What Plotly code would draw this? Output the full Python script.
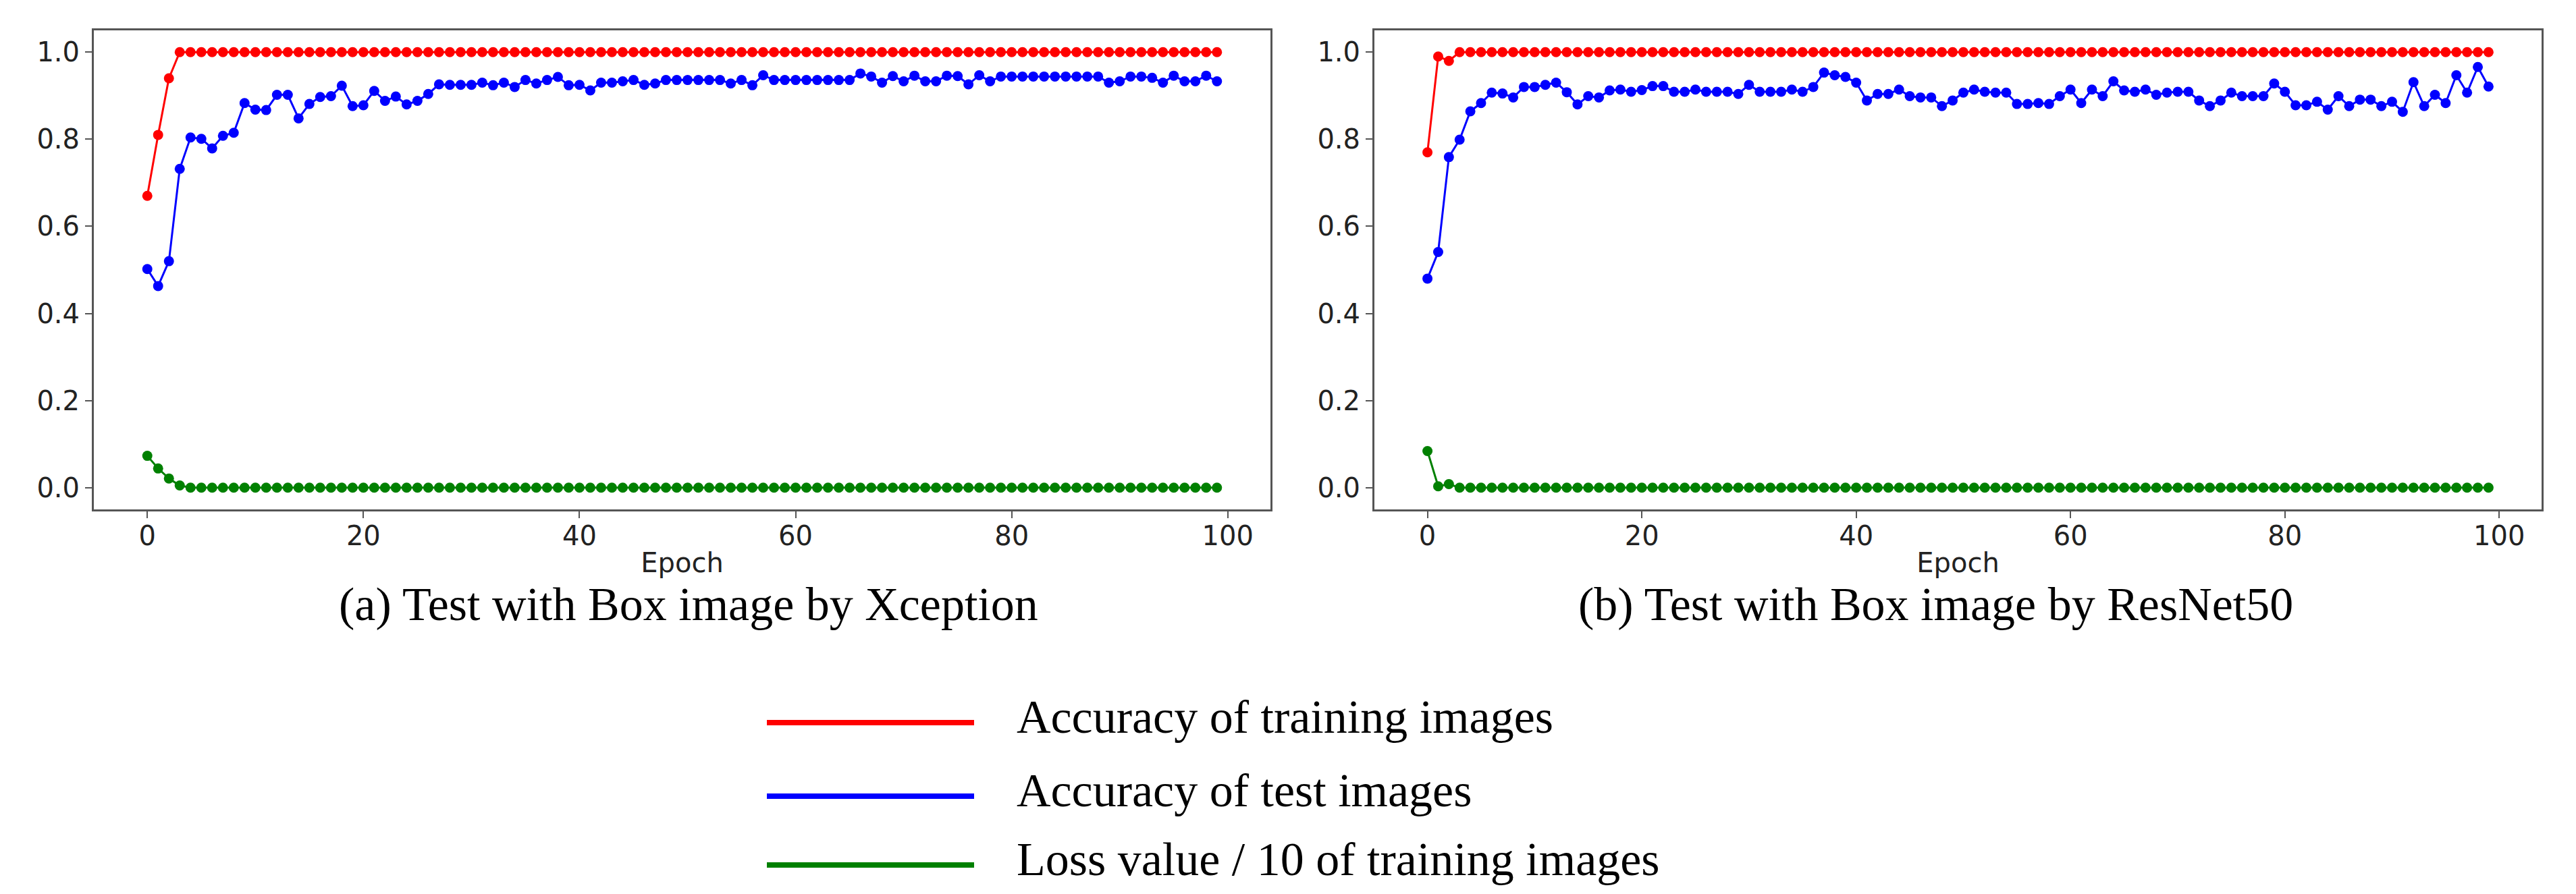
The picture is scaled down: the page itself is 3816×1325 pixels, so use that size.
"""
Training curves for the Box image test: Xception (a) and ResNet50 (b).
"""

import plotly.graph_objects as go
from plotly.subplots import make_subplots

epochs = list(range(100))

series_names = [
    "Accuracy of training images",
    "Accuracy of test images",
    "Loss value / 10 of training images",
]
series_colors = ["#ff0000", "#0000ff", "#008000"]

captions = [
    "(a) Test with Box image by Xception",
    "(b) Test with Box image by ResNet50",
]

xtick_vals = [0, 20, 40, 60, 80, 100]
ytick_vals = [0.0, 0.2, 0.4, 0.6, 0.8, 1.0]
ytick_text = ["0.0", "0.2", "0.4", "0.6", "0.8", "1.0"]

# (a) Xception
xception_train_acc = [
    0.67, 0.81, 0.94, 1.0, 1.0, 1.0, 1.0, 1.0, 1.0, 1.0,
    1.0, 1.0, 1.0, 1.0, 1.0, 1.0, 1.0, 1.0, 1.0, 1.0,
    1.0, 1.0, 1.0, 1.0, 1.0, 1.0, 1.0, 1.0, 1.0, 1.0,
    1.0, 1.0, 1.0, 1.0, 1.0, 1.0, 1.0, 1.0, 1.0, 1.0,
    1.0, 1.0, 1.0, 1.0, 1.0, 1.0, 1.0, 1.0, 1.0, 1.0,
    1.0, 1.0, 1.0, 1.0, 1.0, 1.0, 1.0, 1.0, 1.0, 1.0,
    1.0, 1.0, 1.0, 1.0, 1.0, 1.0, 1.0, 1.0, 1.0, 1.0,
    1.0, 1.0, 1.0, 1.0, 1.0, 1.0, 1.0, 1.0, 1.0, 1.0,
    1.0, 1.0, 1.0, 1.0, 1.0, 1.0, 1.0, 1.0, 1.0, 1.0,
    1.0, 1.0, 1.0, 1.0, 1.0, 1.0, 1.0, 1.0, 1.0, 1.0,
]
xception_test_acc = [
    0.502, 0.463, 0.520, 0.732, 0.804, 0.801, 0.779, 0.808, 0.815, 0.883,
    0.868, 0.867, 0.902, 0.902, 0.848, 0.881, 0.897, 0.899, 0.923, 0.876,
    0.878, 0.911, 0.888, 0.898, 0.880, 0.888, 0.904, 0.926, 0.925, 0.925,
    0.925, 0.930, 0.924, 0.930, 0.920, 0.936, 0.928, 0.936, 0.943, 0.924,
    0.925, 0.912, 0.930, 0.930, 0.933, 0.936, 0.925, 0.928, 0.936, 0.936,
    0.936, 0.936, 0.936, 0.936, 0.928, 0.936, 0.924, 0.947, 0.936, 0.936,
    0.936, 0.936, 0.936, 0.936, 0.936, 0.936, 0.951, 0.944, 0.930, 0.945,
    0.933, 0.946, 0.933, 0.933, 0.946, 0.945, 0.926, 0.947, 0.933, 0.944,
    0.944, 0.944, 0.944, 0.944, 0.944, 0.944, 0.944, 0.944, 0.944, 0.930,
    0.933, 0.944, 0.944, 0.941, 0.930, 0.946, 0.933, 0.933, 0.946, 0.933,
]
xception_loss = [
    0.073, 0.044, 0.021, 0.005, 0.0, 0.0, 0.0, 0.0, 0.0, 0.0,
    0.0, 0.0, 0.0, 0.0, 0.0, 0.0, 0.0, 0.0, 0.0, 0.0,
    0.0, 0.0, 0.0, 0.0, 0.0, 0.0, 0.0, 0.0, 0.0, 0.0,
    0.0, 0.0, 0.0, 0.0, 0.0, 0.0, 0.0, 0.0, 0.0, 0.0,
    0.0, 0.0, 0.0, 0.0, 0.0, 0.0, 0.0, 0.0, 0.0, 0.0,
    0.0, 0.0, 0.0, 0.0, 0.0, 0.0, 0.0, 0.0, 0.0, 0.0,
    0.0, 0.0, 0.0, 0.0, 0.0, 0.0, 0.0, 0.0, 0.0, 0.0,
    0.0, 0.0, 0.0, 0.0, 0.0, 0.0, 0.0, 0.0, 0.0, 0.0,
    0.0, 0.0, 0.0, 0.0, 0.0, 0.0, 0.0, 0.0, 0.0, 0.0,
    0.0, 0.0, 0.0, 0.0, 0.0, 0.0, 0.0, 0.0, 0.0, 0.0,
]

# (b) ResNet50
resnet_train_acc = [
    0.77, 0.99, 0.98, 1.0, 1.0, 1.0, 1.0, 1.0, 1.0, 1.0,
    1.0, 1.0, 1.0, 1.0, 1.0, 1.0, 1.0, 1.0, 1.0, 1.0,
    1.0, 1.0, 1.0, 1.0, 1.0, 1.0, 1.0, 1.0, 1.0, 1.0,
    1.0, 1.0, 1.0, 1.0, 1.0, 1.0, 1.0, 1.0, 1.0, 1.0,
    1.0, 1.0, 1.0, 1.0, 1.0, 1.0, 1.0, 1.0, 1.0, 1.0,
    1.0, 1.0, 1.0, 1.0, 1.0, 1.0, 1.0, 1.0, 1.0, 1.0,
    1.0, 1.0, 1.0, 1.0, 1.0, 1.0, 1.0, 1.0, 1.0, 1.0,
    1.0, 1.0, 1.0, 1.0, 1.0, 1.0, 1.0, 1.0, 1.0, 1.0,
    1.0, 1.0, 1.0, 1.0, 1.0, 1.0, 1.0, 1.0, 1.0, 1.0,
    1.0, 1.0, 1.0, 1.0, 1.0, 1.0, 1.0, 1.0, 1.0, 1.0,
]
resnet_test_acc = [
    0.480, 0.541, 0.759, 0.799, 0.864, 0.883, 0.907, 0.905, 0.896, 0.920,
    0.920, 0.925, 0.930, 0.908, 0.880, 0.899, 0.896, 0.912, 0.914, 0.909,
    0.913, 0.922, 0.922, 0.909, 0.909, 0.914, 0.909, 0.909, 0.909, 0.904,
    0.925, 0.909, 0.909, 0.909, 0.914, 0.909, 0.920, 0.953, 0.947, 0.943,
    0.930, 0.889, 0.904, 0.904, 0.914, 0.899, 0.896, 0.896, 0.876, 0.889,
    0.907, 0.914, 0.909, 0.907, 0.907, 0.881, 0.881, 0.883, 0.881, 0.899,
    0.914, 0.883, 0.914, 0.899, 0.933, 0.912, 0.909, 0.914, 0.902, 0.907,
    0.909, 0.909, 0.889, 0.876, 0.889, 0.907, 0.899, 0.899, 0.899, 0.928,
    0.909, 0.878, 0.878, 0.886, 0.868, 0.899, 0.876, 0.891, 0.891, 0.876,
    0.886, 0.863, 0.931, 0.876, 0.902, 0.883, 0.947, 0.907, 0.966, 0.921,
]
resnet_loss = [
    0.084, 0.003, 0.008, 0.0, 0.0, 0.0, 0.0, 0.0, 0.0, 0.0,
    0.0, 0.0, 0.0, 0.0, 0.0, 0.0, 0.0, 0.0, 0.0, 0.0,
    0.0, 0.0, 0.0, 0.0, 0.0, 0.0, 0.0, 0.0, 0.0, 0.0,
    0.0, 0.0, 0.0, 0.0, 0.0, 0.0, 0.0, 0.0, 0.0, 0.0,
    0.0, 0.0, 0.0, 0.0, 0.0, 0.0, 0.0, 0.0, 0.0, 0.0,
    0.0, 0.0, 0.0, 0.0, 0.0, 0.0, 0.0, 0.0, 0.0, 0.0,
    0.0, 0.0, 0.0, 0.0, 0.0, 0.0, 0.0, 0.0, 0.0, 0.0,
    0.0, 0.0, 0.0, 0.0, 0.0, 0.0, 0.0, 0.0, 0.0, 0.0,
    0.0, 0.0, 0.0, 0.0, 0.0, 0.0, 0.0, 0.0, 0.0, 0.0,
    0.0, 0.0, 0.0, 0.0, 0.0, 0.0, 0.0, 0.0, 0.0, 0.0,
]

W, H = 3816, 1325


def px_x(x):
    return x / W


def px_y(y):
    return 1 - y / H


fig = make_subplots(rows=1, cols=2)

panels = [
    (1, [xception_train_acc, xception_test_acc, xception_loss]),
    (2, [resnet_train_acc, resnet_test_acc, resnet_loss]),
]

for col, values in panels:
    for name, color, ys in zip(series_names, series_colors, values):
        fig.add_trace(
            go.Scatter(
                x=epochs,
                y=ys,
                mode="lines+markers",
                name=name,
                line=dict(color=color, width=3),
                marker=dict(color=color, size=15),
                showlegend=False,
            ),
            row=1,
            col=col,
        )

tick_font = dict(family="DejaVu Sans", size=40, color="#222222")

axis_style = dict(
    showline=True,
    mirror=True,
    linecolor="#555555",
    linewidth=3,
    showgrid=False,
    zeroline=False,
    ticks="outside",
    ticklen=10,
    tickwidth=2,
    tickcolor="#555555",
    tickfont=tick_font,
)

y_domain = [px_y(747), px_y(37)]

fig.update_xaxes(
    **axis_style,
    range=[-4.95, 103.95],
    tickvals=xtick_vals,
    ticklabelstandoff=-8,
    title=dict(text="Epoch", font=tick_font, standoff=4),
)
fig.update_yaxes(
    **axis_style,
    range=[-0.05, 1.05],
    tickvals=ytick_vals,
    ticktext=ytick_text,
    domain=y_domain,
)
fig.update_layout(
    xaxis=dict(domain=[px_x(131), px_x(1874)]),
    xaxis2=dict(domain=[px_x(2028), px_x(3757)]),
)

# captions under each panel
for cx, text in zip([1012, 2859], captions):
    fig.add_annotation(
        x=px_x(cx), y=px_y(887), xref="paper", yref="paper",
        text=text, showarrow=False, xanchor="center", yanchor="middle",
        font=dict(family="Liberation Serif", size=70, color="#000000"),
    )

# hand-drawn legend below the captions
legend_y = [1063, 1172, 1274]
for ly, name, color in zip(legend_y, series_names, series_colors):
    fig.add_shape(
        type="line", xref="paper", yref="paper",
        x0=px_x(1128), x1=px_x(1435), y0=px_y(ly), y1=px_y(ly),
        line=dict(color=color, width=8),
    )
    fig.add_annotation(
        x=px_x(1496), y=px_y(ly - 9), xref="paper", yref="paper",
        text=name, showarrow=False, xanchor="left", yanchor="middle",
        font=dict(family="Liberation Serif", size=70, color="#000000"),
    )

fig.update_layout(
    width=W,
    height=H,
    margin=dict(l=0, r=0, t=0, b=0),
    paper_bgcolor="white",
    plot_bgcolor="white",
)

fig.write_html("out.html")
